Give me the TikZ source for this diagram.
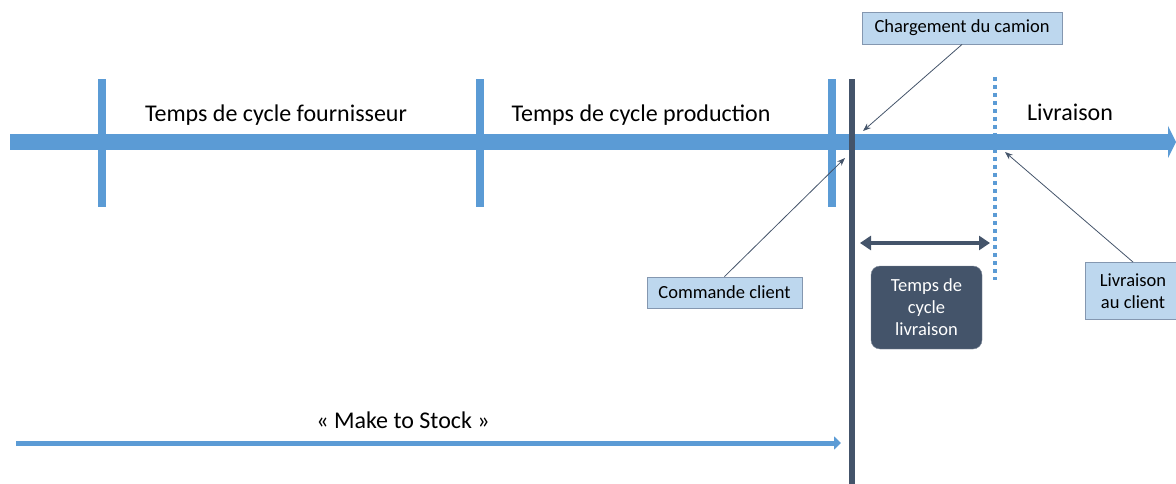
\documentclass[tikz,border=0pt]{standalone}
\usepackage{fontspec}
\setmainfont{Carlito}
\usetikzlibrary{arrows.meta}
\definecolor{axisblue}{HTML}{5B9BD5}
\definecolor{slate}{HTML}{44546A}
\definecolor{callfill}{HTML}{BDD7EE}
\definecolor{callline}{HTML}{8497B0}
\begin{document}
\begin{tikzpicture}[x=1pt,y=-1pt,
  callout/.style={draw=callline, fill=callfill, line width=0.9pt, font=\fontsize{18.5}{21.5}\selectfont, inner sep=0pt, align=center},
  leader/.style={draw=slate, line width=0.8pt, -{Stealth[length=8pt,width=6pt]}},
  tickbar/.style={fill=axisblue},
  phase/.style={font=\fontsize{24}{28}\selectfont, inner sep=0pt}]
\useasboundingbox (0,0) rectangle (1176,484);
% main axis
\fill[axisblue] (10,134) rectangle (1168,150);
\fill[axisblue] (1168,126) -- (1176,142) -- (1168,158) -- cycle;
% ticks
\fill[tickbar] (98,79) rectangle (106,207);
\fill[tickbar] (476,79) rectangle (484,207);
\fill[tickbar] (828,79) rectangle (836,207);
% dark line
\fill[slate] (849,79) rectangle (855,484);
% dotted line
\draw[axisblue, line width=4pt, dash pattern=on 4pt off 4pt] (995,77) -- (995,280);
% phase labels
\node[phase] (tf) at (276,115) {Temps de cycle fournisseur};
\node[phase] (tp) at (641,115) {Temps de cycle production};
\node[phase] (lv) at (1070,112) {Livraison};
% callouts
\node[callout, minimum width=200pt, minimum height=32pt] (charg) at (962,28) {Chargement du camion};
\node[callout, minimum width=155pt, minimum height=31pt] (cmd) at (724.5,292.5) {Commande client};
\node[callout, minimum width=95pt, minimum height=57pt] (livc) at (1133,291) {Livraison\\au client};
\coordinate (pc) at (863,131);
\coordinate (pm) at (845,158);
\coordinate (pl) at (1005,152);
\draw[leader] (charg.south) -- (pc);
\draw[leader] (cmd.north) -- (pm);
\draw[leader] (livc.north) -- (pl);
% delivery cycle
\coordinate (da) at (860,243);
\coordinate (db) at (990,243);
\draw[slate, line width=4pt, {Triangle[length=11pt,width=14pt]}-{Triangle[length=11pt,width=14pt]}] (da) -- (db);
\node[fill=slate, draw=slate!70, rounded corners=9pt, minimum width=111pt, minimum height=83pt, text=white, align=center, inner sep=0pt, font=\fontsize{18.5}{22}\selectfont] (tcl) at (926.5,307.5) {Temps de\\cycle\\livraison};
% make to stock
\coordinate (ms) at (16,443);
\coordinate (me) at (841,443);
\draw[axisblue, line width=5pt, -{Triangle[length=7pt,width=13pt]}] (ms) -- (me);
\node[phase] (mts) at (403,420) {« Make to Stock »};
\end{tikzpicture}
\end{document}
